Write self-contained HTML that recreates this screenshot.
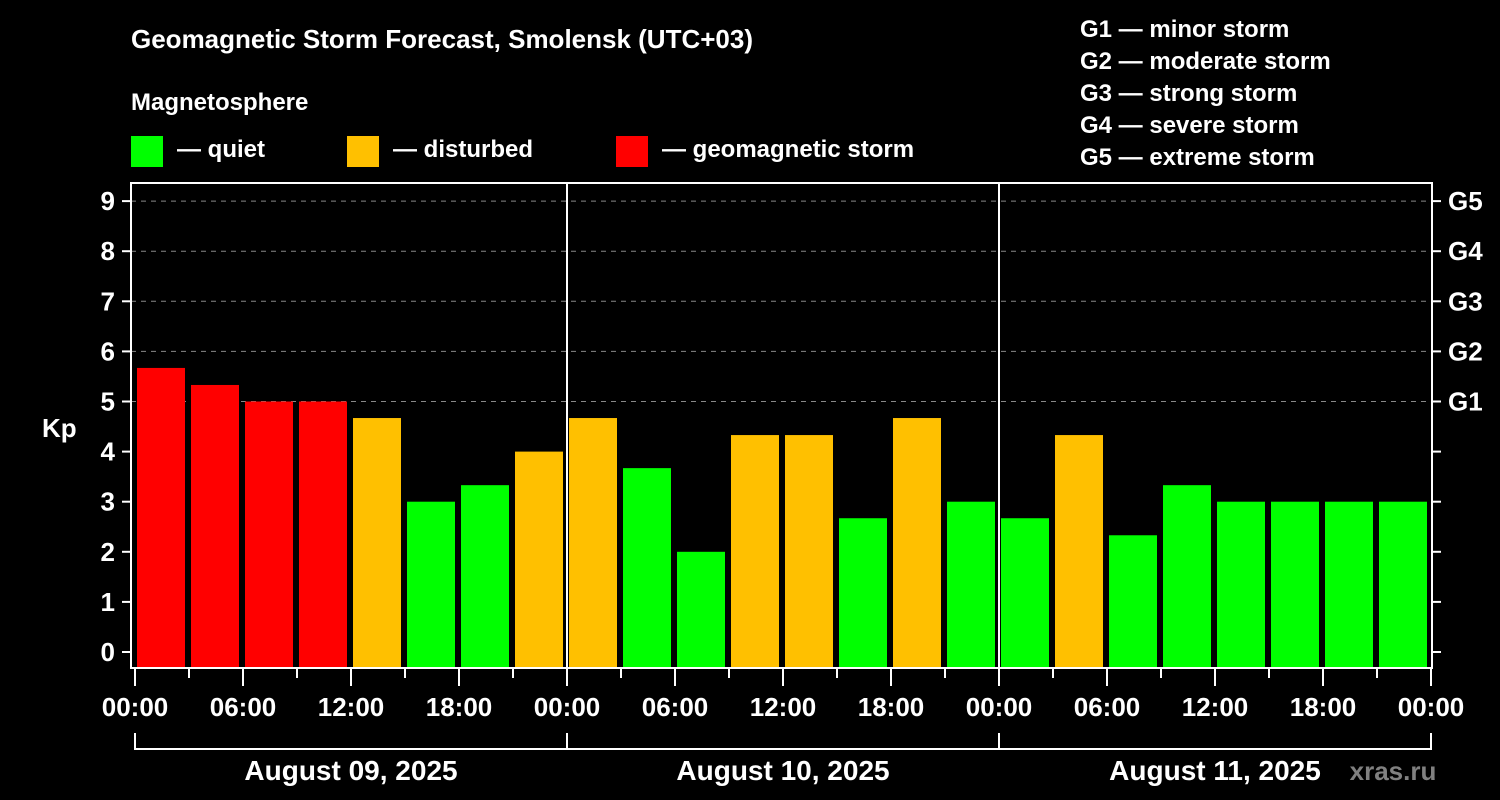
<!DOCTYPE html>
<html><head><meta charset="utf-8">
<style>
html,body{margin:0;padding:0;background:#000;}
svg{display:block;font-family:"Liberation Sans",Arial,sans-serif;font-weight:bold;}
</style></head>
<body>
<svg id="chart" width="1500" height="800" viewBox="0 0 1500 800" xmlns="http://www.w3.org/2000/svg">
<rect width="1500" height="800" fill="#000"/>
<text x="131" y="48" fill="#fff" font-size="26">Geomagnetic Storm Forecast, Smolensk (UTC+03)</text>
<text x="131" y="110" fill="#fff" font-size="24">Magnetosphere</text>
<g>
<rect x="131" y="136" width="32" height="31" fill="#00ff00"/>
<text x="177" y="157" fill="#fff" font-size="24">— quiet</text></g>
<g>
<rect x="347" y="136" width="32" height="31" fill="#ffc000"/>
<text x="393" y="157" fill="#fff" font-size="24">— disturbed</text></g>
<g>
<rect x="616" y="136" width="32" height="31" fill="#ff0000"/>
<text x="662" y="157" fill="#fff" font-size="24">— geomagnetic storm</text></g>
<g fill="#fff" font-size="24">
<text x="1080" y="37">G1 — minor storm</text>
<text x="1080" y="69">G2 — moderate storm</text>
<text x="1080" y="101">G3 — strong storm</text>
<text x="1080" y="133">G4 — severe storm</text>
<text x="1080" y="165">G5 — extreme storm</text>
</g>
<text x="42" y="437" fill="#fff" font-size="26">Kp</text>
<g id="grid"></g>
<g id="bars"></g>
<g id="axes"></g>
<text x="1393" y="780" fill="#808080" font-size="26" text-anchor="middle">xras.ru</text>
</svg>
<script>
const kpValues = [5.67,5.33,5,5,4.67,3,3.33,4, 4.67,3.67,2,4.33,4.33,2.67,4.67,3, 2.67,4.33,2.33,3.33,3,3,3,3];
const dayLabels = ["August 09, 2025","August 10, 2025","August 11, 2025"];
const hourLabels = ["00:00","06:00","12:00","18:00"];
const gLabels = ["G1","G2","G3","G4","G5"];
const yTicks = [0,1,2,3,4,5,6,7,8,9];

const X0=135, PXH=18, Y0=652, PXK=50.1, TOP=183, BOT=668, LEFT=131, RIGHT=1432;
const xs = h => X0 + h*PXH;
const ys = k => Y0 - k*PXK;
const NS="http://www.w3.org/2000/svg";
function mk(tag, attrs, parent, txt){const e=document.createElementNS(NS,tag);for(const k in attrs)e.setAttribute(k,attrs[k]);if(txt!==undefined)e.textContent=txt;parent.appendChild(e);return e;}
const grid=document.getElementById('grid'), bars=document.getElementById('bars'), axes=document.getElementById('axes');

yTicks.forEach(k=>{
  if(k>=5){
    const l=mk('line',{x1:LEFT,x2:RIGHT,y1:ys(k),y2:ys(k),stroke:'#888','stroke-dasharray':'5,5','stroke-width':1},grid);
    
    
  }
  const t=mk('line',{x1:LEFT-9,x2:LEFT,y1:ys(k),y2:ys(k),stroke:'#fff','stroke-width':2},axes);
  
  
  const t2=mk('line',{x1:RIGHT,x2:RIGHT+9,y1:ys(k),y2:ys(k),stroke:'#fff','stroke-width':2},axes);
  
  
  const lb=mk('text',{x:115,y:ys(k)+9,fill:'#fff','font-size':26,'text-anchor':'end'},axes,String(k));
  
  
});
gLabels.forEach((g,i)=>{
  const lb=mk('text',{x:1448,y:ys(i+5)+9,fill:'#fff','font-size':26},axes,g);
  
  
});

kpValues.forEach((v,i)=>{
  const c = v>=5?'#ff0000':(v>=4?'#ffc000':'#00ff00');
  const r=mk('rect',{x:xs(i*3)+2,y:ys(v),width:3*PXH-6,height:BOT-ys(v),fill:c},bars);
  
  
});

const frame=mk('rect',{x:LEFT,y:TOP,width:RIGHT-LEFT,height:BOT-TOP,fill:'none',stroke:'#fff','stroke-width':2},axes);


for(let d=1;d<3;d++){
  const l=mk('line',{x1:xs(d*24),x2:xs(d*24),y1:TOP,y2:BOT,stroke:'#fff','stroke-width':2},axes);
  
  
}
for(let h=0;h<=72;h+=3){
  const major=h%6===0;
  const t=mk('line',{x1:xs(h),x2:xs(h),y1:BOT,y2:major?686:678,stroke:'#fff','stroke-width':2},axes);
  
  
  if(major){
    const lb=mk('text',{x:xs(h),y:716,fill:'#fff','font-size':26,'text-anchor':'middle'},axes,hourLabels[(h/6)%4]);
    
    
  }
}
const br=mk('path',{d:`M${xs(0)},733 V749 H${xs(72)} V733`,fill:'none',stroke:'#fff','stroke-width':2},axes);


dayLabels.forEach((d,i)=>{
  const t=mk('line',{x1:xs(i*24),x2:xs(i*24),y1:733,y2:749,stroke:'#fff','stroke-width':2},axes);
  
  
  const lb=mk('text',{x:xs(i*24+12),y:780,fill:'#fff','font-size':28,'text-anchor':'middle'},axes,d);
  
  
});
</script>
</body></html>
